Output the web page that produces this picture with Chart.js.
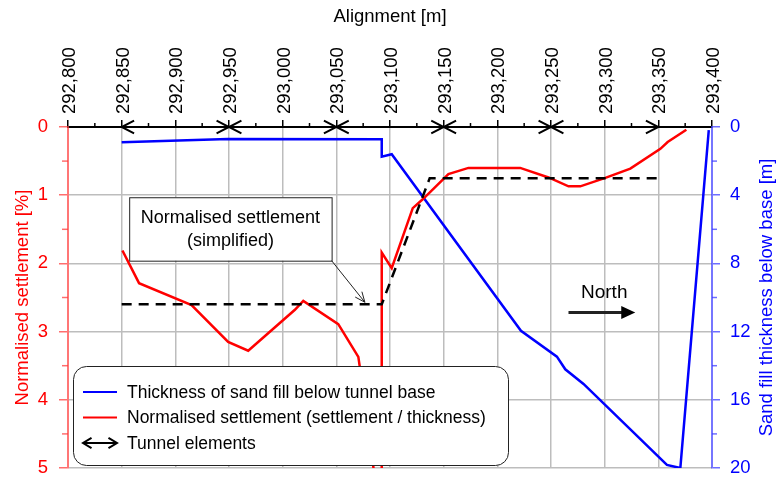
<!DOCTYPE html>
<html>
<head>
<meta charset="utf-8">
<script src="https://cdn.jsdelivr.net/npm/chart.js@4.4.0/dist/chart.umd.min.js"></script>
<style>
  html, body { margin: 0; padding: 0; background: #fff; }
  #wrap { width: 778px; height: 478px; }
</style>
</head>
<body>
<div id="wrap"><canvas id="settlementChart" width="778" height="478"></canvas></div>
<script>
// chainage [m] and sand fill thickness below tunnel base [m]
const thicknessChainage = [292850, 292949, 293092.3, 293092.3, 293101.6, 293222, 293255.5, 293263.3, 293280.3, 293358, 293370.5, 293397];
const thicknessValues   = [0.9, 0.7, 0.72, 1.74, 1.6, 11.95, 13.47, 14.21, 15.07, 19.82, 20, 0.18];

// chainage [m] and normalised settlement [%]
const settlementChainage = [292850.7, 292866.2, 292915.1, 292949.2, 292967.9, 293011.4, 293019.2, 293051.8, 293070.5, 293080, 293092.3, 293092.3, 293101.6, 293121.2, 293130.5, 293154.4, 293173.1, 293221.3, 293247.7, 293266.3, 293277.3, 293300, 293323.9, 293351.9, 293358.7, 293376.1];
const settlementValues   = [1.81, 2.29, 2.61, 3.15, 3.28, 2.68, 2.55, 2.89, 3.37, 4.4, 6.0, 1.84, 2.07, 1.19, 1.06, 0.69, 0.6, 0.6, 0.74, 0.87, 0.87, 0.75, 0.61, 0.32, 0.22, 0.04];

// simplified settlement (dashed)
const simplifiedChainage = [292850, 293092.3, 293137, 293350];
const simplifiedValues   = [2.6, 2.6, 0.75, 0.75];

// tunnel element joints
const tunnelJoints = [292850, 292950, 293050, 293150, 293250, 293350];

// axis ranges / ticks
const xMin = 292800, xMax = 293400, xMinorStep = 25, xMajorStep = 50;
const yMax = 5, yMinorStep = 0.5;
const y2Max = 20, y2MinorStep = 2, y2MajorStep = 4;

const FONT = 'Liberation Sans, Arial, sans-serif';
const CLEAR = 'rgba(0,0,0,0)';
const zip = (xs, ys) => xs.map((x, i) => ({ x: x, y: ys[i] }));
const fmt = v => String(v).replace(/\B(?=(\d{3})+(?!\d))/g, ',');
const isMajorX = v => v % xMajorStep === 0;
const isMajorY = v => Number.isInteger(v);
const isMajorY2 = v => v % y2MajorStep === 0;

function openHead(ctx, tx, ty, ang, len, spread) {
  ctx.beginPath();
  ctx.moveTo(tx - len * Math.cos(ang - spread), ty - len * Math.sin(ang - spread));
  ctx.lineTo(tx, ty);
  ctx.lineTo(tx - len * Math.cos(ang + spread), ty - len * Math.sin(ang + spread));
  ctx.stroke();
}

// short minor tick marks (Chart.js has one tick length per axis)
const minorTickPlugin = {
  id: 'minorTicks',
  afterDraw(chart) {
    const { ctx, chartArea: area, scales: { x, y, y2 } } = chart;
    ctx.save();
    ctx.lineWidth = 1.5;
    ctx.strokeStyle = '#000';
    x.ticks.forEach(t => {
      if (isMajorX(t.value)) return;
      const px = x.getPixelForValue(t.value);
      ctx.beginPath(); ctx.moveTo(px, area.top - 4); ctx.lineTo(px, area.top); ctx.stroke();
    });
    ctx.strokeStyle = 'rgba(255,60,60,0.75)';
    y.ticks.forEach(t => {
      if (isMajorY(t.value)) return;
      const py = y.getPixelForValue(t.value);
      ctx.beginPath(); ctx.moveTo(area.left - 6, py); ctx.lineTo(area.left, py); ctx.stroke();
    });
    ctx.strokeStyle = 'rgba(60,60,255,0.75)';
    y2.ticks.forEach(t => {
      if (isMajorY2(t.value)) return;
      const py = y2.getPixelForValue(t.value);
      ctx.beginPath(); ctx.moveTo(area.right, py); ctx.lineTo(area.right + 5, py); ctx.stroke();
    });
    ctx.restore();
  }
};

const overlayPlugin = {
  id: 'overlay',
  afterDatasetsDraw(chart) {
    const { ctx, chartArea: area, scales: { x, y } } = chart;
    ctx.save();

    // tunnel element arrow heads
    ctx.strokeStyle = '#000';
    ctx.lineWidth = 2;
    const ty = y.getPixelForValue(0);
    tunnelJoints.forEach((j, i) => {
      const px = x.getPixelForValue(j);
      if (i > 0) openHead(ctx, px, ty, 0, 14, 0.48);
      if (i < tunnelJoints.length - 1) openHead(ctx, px, ty, Math.PI, 14, 0.48);
    });

    // annotation box "Normalised settlement (simplified)"
    const bx0 = x.getPixelForValue(292857), bx1 = x.getPixelForValue(293045.6);
    const by0 = y.getPixelForValue(1.03), by1 = y.getPixelForValue(1.96);
    ctx.fillStyle = '#fff';
    ctx.fillRect(bx0, by0, bx1 - bx0, by1 - by0);
    ctx.lineWidth = 1;
    ctx.strokeStyle = '#222';
    ctx.strokeRect(bx0 + 0.5, by0 + 0.5, bx1 - bx0, by1 - by0);
    ctx.fillStyle = '#000';
    ctx.font = '18px ' + FONT;
    ctx.textAlign = 'center';
    ctx.textBaseline = 'middle';
    const bcx = (bx0 + bx1) / 2, bcy = (by0 + by1) / 2;
    ctx.fillText('Normalised settlement', bcx, bcy - 11);
    ctx.fillText('(simplified)', bcx, bcy + 12);
    // callout arrow
    const ax = x.getPixelForValue(293076.6), ay = y.getPixelForValue(2.57);
    ctx.beginPath();
    ctx.moveTo(bx1, by1);
    ctx.lineTo(ax, ay);
    ctx.stroke();
    openHead(ctx, ax, ay, Math.atan2(ay - by1, ax - bx1), 11, 0.4);

    // North arrow
    const nx0 = x.getPixelForValue(293266.3), nx1 = x.getPixelForValue(293328.5);
    const ny = y.getPixelForValue(2.72);
    ctx.font = '19px ' + FONT;
    ctx.textBaseline = 'alphabetic';
    ctx.fillText('North', x.getPixelForValue(293299.6), y.getPixelForValue(2.51));
    ctx.lineWidth = 3;
    ctx.beginPath();
    ctx.moveTo(nx0, ny);
    ctx.lineTo(nx1 - 12, ny);
    ctx.stroke();
    ctx.beginPath();
    ctx.moveTo(nx1, ny);
    ctx.lineTo(nx1 - 14, ny - 6.5);
    ctx.lineTo(nx1 - 14, ny + 6.5);
    ctx.closePath();
    ctx.fill();

    // legend
    const lx0 = area.left + 5, lx1 = 508, ly0 = area.bottom - 102, ly1 = area.bottom - 3;
    ctx.beginPath();
    ctx.roundRect(lx0 + 0.5, ly0 + 0.5, lx1 - lx0, ly1 - ly0, 13);
    ctx.fillStyle = '#fff';
    ctx.fill();
    ctx.lineWidth = 1;
    ctx.strokeStyle = '#222';
    ctx.stroke();
    const rows = [
      { label: 'Thickness of sand fill below tunnel base', color: '#0000ff' },
      { label: 'Normalised settlement (settlement / thickness)', color: '#ff0000' },
      { label: 'Tunnel elements', color: null }
    ];
    ctx.font = '17.5px ' + FONT;
    ctx.textAlign = 'left';
    ctx.textBaseline = 'middle';
    rows.forEach((r, i) => {
      const ry = ly0 + 26 + i * 25.5;
      const sx0 = lx0 + 10, sx1 = lx0 + 44;
      ctx.lineWidth = 2;
      ctx.strokeStyle = r.color || '#000';
      ctx.beginPath();
      ctx.moveTo(sx0, ry);
      ctx.lineTo(sx1, ry);
      ctx.stroke();
      if (!r.color) {
        openHead(ctx, sx1, ry, 0, 10, 0.55);
        openHead(ctx, sx0, ry, Math.PI, 10, 0.55);
      }
      ctx.fillStyle = '#000';
      ctx.fillText(r.label, lx0 + 54, ry + 1);
    });

    // right axis title (reads bottom to top)
    ctx.save();
    ctx.translate(767, (area.top + area.bottom) / 2);
    ctx.rotate(-Math.PI / 2);
    ctx.font = '18.5px ' + FONT;
    ctx.fillStyle = '#0000ff';
    ctx.textAlign = 'center';
    ctx.textBaseline = 'middle';
    ctx.fillText('Sand fill thickness below base [m]', 0, 0);
    ctx.restore();

    ctx.restore();
  }
};

const gridGray = '#bdbdbd';

new Chart(document.getElementById('settlementChart'), {
  type: 'scatter',
  data: {
    datasets: [
      {
        label: 'Tunnel elements',
        data: [{ x: tunnelJoints[0], y: 0 }, { x: tunnelJoints[tunnelJoints.length - 1], y: 0 }],
        yAxisID: 'y',
        showLine: true,
        borderColor: '#000',
        borderWidth: 2,
        pointRadius: 0,
        clip: false
      },
      {
        label: 'Normalised settlement (simplified)',
        data: zip(simplifiedChainage, simplifiedValues),
        yAxisID: 'y',
        showLine: true,
        borderColor: '#000',
        borderWidth: 2.5,
        borderDash: [10, 7],
        pointRadius: 0
      },
      {
        label: 'Normalised settlement (settlement / thickness)',
        data: zip(settlementChainage, settlementValues),
        yAxisID: 'y',
        showLine: true,
        borderColor: '#ff0000',
        borderWidth: 2.5,
        pointRadius: 0
      },
      {
        label: 'Thickness of sand fill below tunnel base',
        data: zip(thicknessChainage, thicknessValues),
        yAxisID: 'y2',
        showLine: true,
        borderColor: '#0000ff',
        borderWidth: 2.5,
        pointRadius: 0
      }
    ]
  },
  options: {
    responsive: false,
    animation: false,
    devicePixelRatio: 1,
    layout: { padding: 0 },
    plugins: {
      legend: { display: false },
      tooltip: { enabled: false }
    },
    scales: {
      x: {
        type: 'linear',
        position: 'top',
        min: xMin,
        max: xMax,
        afterBuildTicks: s => {
          const t = [];
          for (let v = xMin; v <= xMax; v += xMinorStep) t.push({ value: v });
          s.ticks = t;
        },
        ticks: {
          autoSkip: false,
          minRotation: 90,
          maxRotation: 90,
          color: '#000',
          padding: 6,
          labelOffset: 24,
          font: { family: FONT, size: 18.5 },
          callback: v => (isMajorX(v) ? fmt(v) : '')
        },
        grid: {
          color: c => (c.tick && isMajorX(c.tick.value) && c.tick.value > xMin && c.tick.value < xMax ? gridGray : CLEAR),
          tickColor: c => (c.tick && isMajorX(c.tick.value) ? '#000' : CLEAR),
          tickLength: 7,
          lineWidth: 1.5
        },
        border: { color: '#000', width: 2 },
        title: {
          display: true,
          text: 'Alignment [m]',
          color: '#000',
          font: { family: FONT, size: 18.5 },
          padding: { top: 6, bottom: 0 }
        },
        afterFit: s => { s.height = 127; s.paddingLeft = 0; s.paddingRight = 0; }
      },
      y: {
        position: 'left',
        reverse: true,
        min: 0,
        max: yMax,
        ticks: {
          stepSize: yMinorStep,
          color: '#ff0000',
          padding: 11,
          font: { family: FONT, size: 18.5 },
          callback: v => (isMajorY(v) ? v : '')
        },
        grid: {
          color: c => (c.tick && isMajorY(c.tick.value) ? gridGray : CLEAR),
          tickColor: c => (c.tick && isMajorY(c.tick.value) ? 'rgba(255,60,60,0.75)' : CLEAR),
          tickLength: 9,
          lineWidth: 1.5
        },
        border: { color: 'rgba(255,60,60,0.7)', width: 2 },
        title: {
          display: true,
          text: 'Normalised settlement [%]',
          color: '#ff0000',
          font: { family: FONT, size: 18.5 },
          padding: { top: 12, bottom: 0 }
        },
        afterFit: s => { s.width = 68; s.paddingTop = 0; s.paddingBottom = 10; }
      },
      y2: {
        position: 'right',
        reverse: true,
        min: 0,
        max: y2Max,
        ticks: {
          stepSize: y2MinorStep,
          color: '#0000ff',
          padding: 10,
          font: { family: FONT, size: 18.5 },
          callback: v => (isMajorY2(v) ? v : '')
        },
        grid: {
          drawOnChartArea: false,
          tickColor: c => (c.tick && isMajorY2(c.tick.value) ? 'rgba(60,60,255,0.75)' : CLEAR),
          tickLength: 8,
          lineWidth: 1.5
        },
        border: { color: 'rgba(60,60,255,0.7)', width: 2 },
        afterFit: s => { s.width = 66; s.paddingTop = 0; s.paddingBottom = 10; }
      }
    }
  },
  plugins: [overlayPlugin, minorTickPlugin]
});
</script>
</body>
</html>
